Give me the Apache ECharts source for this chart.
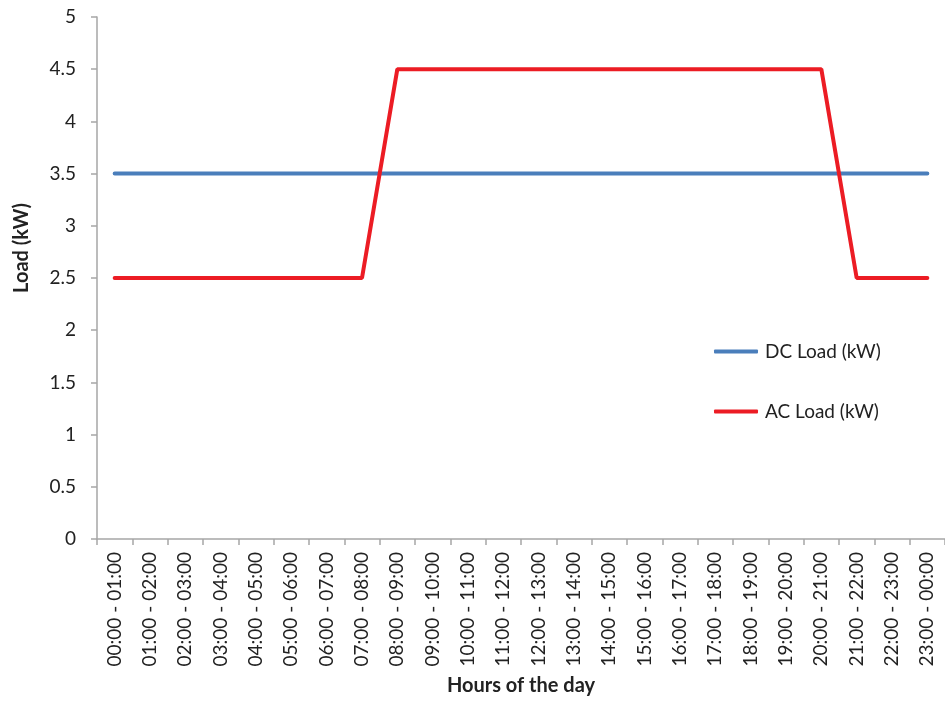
<!DOCTYPE html>
<html><head><meta charset="utf-8">
<script src="https://cdn.jsdelivr.net/npm/echarts@6/dist/echarts.min.js"></script>
<style>html,body{margin:0;padding:0;background:#fff}#c{width:945px;height:701px}</style>
</head><body><div id="c"></div>
<script>
const hours = ["00:00 - 01:00","01:00 - 02:00","02:00 - 03:00","03:00 - 04:00","04:00 - 05:00","05:00 - 06:00","06:00 - 07:00","07:00 - 08:00","08:00 - 09:00","09:00 - 10:00","10:00 - 11:00","11:00 - 12:00","12:00 - 13:00","13:00 - 14:00","14:00 - 15:00","15:00 - 16:00","16:00 - 17:00","17:00 - 18:00","18:00 - 19:00","19:00 - 20:00","20:00 - 21:00","21:00 - 22:00","22:00 - 23:00","23:00 - 00:00"];
const dcLoad = [3.5,3.5,3.5,3.5,3.5,3.5,3.5,3.5,3.5,3.5,3.5,3.5,3.5,3.5,3.5,3.5,3.5,3.5,3.5,3.5,3.5,3.5,3.5,3.5];
const acLoad = [2.5,2.5,2.5,2.5,2.5,2.5,2.5,2.5,4.5,4.5,4.5,4.5,4.5,4.5,4.5,4.5,4.5,4.5,4.5,4.5,4.5,2.5,2.5,2.5];
const FONT = "Lato, 'Open Sans', sans-serif";
const chart = echarts.init(document.getElementById('c'), null, {renderer:'canvas'});
chart.setOption({
  animation:false,
  textStyle:{fontFamily:FONT},
  grid:{left:97, top:17, right:0, bottom:158, containLabel:false},
  legend:{
    orient:'vertical', left:709, top:337, itemGap:41, itemWidth:44, itemHeight:4,
    icon:'roundRect',
    textStyle:{fontSize:19, color:'#222', fontFamily:FONT, padding:[0,0,0,2]},
    data:['DC Load (kW)','AC Load (kW)']
  },
  xAxis:{
    type:'category', data:hours, boundaryGap:true,
    name:'Hours of the day', nameLocation:'middle', nameGap:137,
    nameTextStyle:{fontSize:20, fontWeight:'bold', color:'#222', fontFamily:FONT},
    axisLine:{lineStyle:{color:'#a6a6a6', width:1.5}},
    axisTick:{show:true, alignWithLabel:false, length:6, lineStyle:{color:'#a6a6a6', width:1.5}},
    axisLabel:{rotate:90, fontSize:19, color:'#222', margin:13, interval:0, fontFamily:FONT},
    splitLine:{show:false}
  },
  yAxis:{
    type:'value', min:0, max:5, interval:0.5,
    name:'Load (kW)', nameLocation:'middle', nameGap:65, nameRotate:90,
    nameTextStyle:{fontSize:20, fontWeight:'bold', color:'#222', fontFamily:FONT, padding:[0,0,0,60]},
    axisLine:{show:true, lineStyle:{color:'#a6a6a6', width:1.5}},
    axisTick:{show:true, length:6, lineStyle:{color:'#a6a6a6', width:1.5}},
    axisLabel:{fontSize:19, color:'#222', margin:21, fontFamily:FONT},
    splitLine:{show:false}
  },
  series:[
    {name:'DC Load (kW)', type:'line', data:dcLoad, showSymbol:false, symbol:'none',
     lineStyle:{color:'#4a7ebb', width:4, cap:'round'}, itemStyle:{color:'#4a7ebb'}},
    {name:'AC Load (kW)', type:'line', data:acLoad, showSymbol:false, symbol:'none',
     lineStyle:{color:'#ec1c24', width:4, cap:'round'}, itemStyle:{color:'#ec1c24'}}
  ]
});
</script></body></html>
